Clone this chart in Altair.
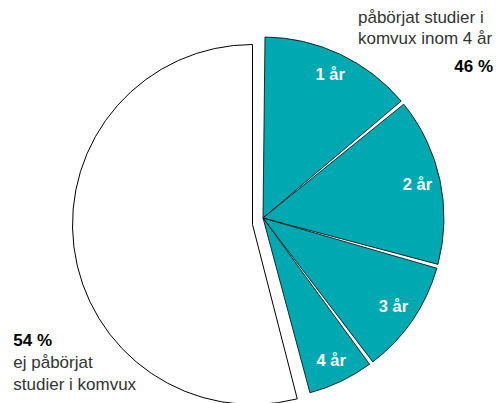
import altair as alt
import pandas as pd

# ---- data ----
categories = ["1 år", "2 år", "3 år", "4 år", "ej påbörjat"]
values = [14.0, 15.3, 10.5, 6.2, 54.0]
groups = ["started", "started", "started", "started", "not"]
top_lines = ["påbörjat studier i", "komvux inom 4 år"]
bottom_lines = ["ej påbörjat", "studier i komvux"]

pct_started = sum(v for v, g in zip(values, groups) if g == "started")
pct_not = sum(v for v, g in zip(values, groups) if g == "not")

df = pd.DataFrame({"cat": categories, "value": values, "group": groups,
                   "order": list(range(len(categories)))})

TEAL = "#00a8b1"
FONT = "Liberation Sans"
theta_scale = alt.Scale(domain=[0, 100], range=[0, 6.283185307179586])

base = (alt.Chart(df)
        .transform_window(cum="sum(value)", sort=[alt.SortField("order")], frame=[None, 0])
        .transform_calculate(start="datum.cum - datum.value",
                             mid="datum.cum - datum.value / 2"))

# pie centres (explode offsets)
TX, TY = 255, 210
WX, WY = 244.5, 216.5

white = (base.transform_filter("datum.group == 'not'")
         .mark_arc(outerRadius=180, fill="white", stroke="black", strokeWidth=1)
         .encode(theta=alt.Theta("start:Q", scale=theta_scale, stack=False),
                 theta2="cum:Q",
                 x=alt.value(WX), y=alt.value(WY)))

teal = (base.transform_filter("datum.group == 'started'")
        .mark_arc(outerRadius=181, padAngle=0.022, fill=TEAL, stroke="black", strokeWidth=0.8)
        .encode(theta=alt.Theta("start:Q", scale=theta_scale, stack=False),
                theta2="cum:Q",
                x=alt.value(TX), y=alt.value(TY)))

labels = (base.transform_filter("datum.group == 'started'")
          .mark_text(radius=158, font=FONT, fontSize=16.5, fontWeight="bold", color="white",
                     align="center", baseline="middle")
          .encode(theta=alt.Theta("mid:Q", scale=theta_scale, stack=False),
                  text="cat:N",
                  x=alt.value(TX), y=alt.value(TY)))


def note(text, x, y, align="left", bold=False, color="#333333", lh=21.0):
    return (alt.Chart(pd.DataFrame({"t": [text]}))
            .mark_text(align=align, baseline="alphabetic", fontSize=17, font=FONT,
                       fontWeight="bold" if bold else "normal", color=color,
                       lineBreak="\n", lineHeight=lh)
            .encode(x=alt.value(x), y=alt.value(y), text="t:N"))


n1 = note("\n".join(top_lines), 350, 14.5)
n2 = note(f"{pct_started:.0f} %", 485, 63.7, align="right", bold=True, color="black")
n3 = note(f"{pct_not:.0f} %", 5.3, 337.7, bold=True, color="black")
n4 = note("\n".join(bottom_lines), 5.3, 360.3, lh=21.8)

chart = (alt.layer(white, teal, labels, n1, n2, n3, n4)
         .properties(width=485, height=395, padding=0, autosize="none")
         .configure_view(stroke=None))

chart.save("out.html", embed_options={"renderer": "svg", "actions": False})
